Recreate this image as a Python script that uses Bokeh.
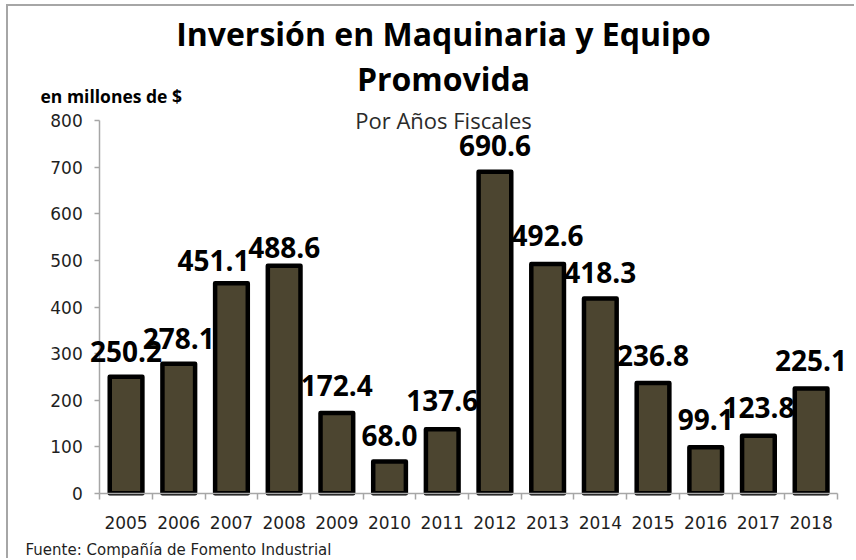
from bokeh.plotting import figure
from bokeh.models import (ColumnDataSource, LinearAxis, FixedTicker, Label, LabelSet, Range1d)
from bokeh.core.properties import value
from bokeh.embed import file_html
from bokeh.resources import INLINE

# ---- data ----
years = ["2005", "2006", "2007", "2008", "2009", "2010", "2011",
         "2012", "2013", "2014", "2015", "2016", "2017", "2018"]
values = [250.2, 278.1, 451.1, 488.6, 172.4, 68.0, 137.6,
          690.6, 492.6, 418.3, 236.8, 99.1, 123.8, 225.1]
value_labels = ["%.1f" % v for v in values]
y_ticks = [0, 100, 200, 300, 400, 500, 600, 700, 800]

title_line1 = "Inversión en Maquinaria y Equipo"
title_line2 = "Promovida"
subtitle = "Por Años Fiscales"
unit_label = "en millones de $"
source_note = "Fuente: Compañía de Fomento Industrial"

# label nudges (pixels) – styling only
label_dx = [0, 0, -18, 0, 0, 0, 0, 0, 0, 0, 0, 0, 0, 0]
label_dy = [15, 15, 12, 8, 17, 16, 18, 16, 18, 16, 17, 17, 18, 17]

n = len(years)
centers = [i + 0.5 for i in range(n)]
bounds_x = [float(i) for i in range(n + 1)]

src = ColumnDataSource(dict(x=centers, year=years, value=values, label=value_labels,
                            dx=label_dx, dy=label_dy))

# ---- geometry (pixels) ----
W, H = 846, 552
FL, FR, FT, FB = 91, 827, 114, 485          # plot-area edges inside canvas
xpp = (FR - FL) / n                          # px per category
ypp = (FB - FT) / 800.0                      # px per unit
x_range = Range1d(-FL / xpp, n + (W - FR) / xpp)
y_range = Range1d(-(H - FB) / ypp, 800 + FT / ypp)

p = figure(x_range=x_range, y_range=y_range,
           width=W, height=H, output_backend="svg", toolbar_location=None,
           x_axis_location=None, y_axis_location=None, min_border=0)
p.outline_line_color = None
p.background_fill_color = "white"
p.border_fill_color = "white"
p.styles = {"position": "absolute", "left": "6px", "top": "4px",
            "box-sizing": "content-box",
            "border-left": "2px solid #a6a6a6", "border-top": "2px solid #a6a6a6"}

axis_col = "#a6a6a6"
tick_col = "#1f1f1f"

yax = LinearAxis(fixed_location=0, bounds=(0, 800),
                 ticker=FixedTicker(ticks=y_ticks), axis_line_color=axis_col,
                 axis_line_width=1.5, major_tick_line_color=axis_col,
                 major_tick_line_width=1.5, major_tick_out=5, major_tick_in=0,
                 minor_tick_line_color=None, major_label_standoff=12,
                 major_label_text_font="DejaVu Sans",
                 major_label_text_font_size="17px",
                 major_label_text_color=tick_col)
p.add_layout(yax, "left")

xax = LinearAxis(fixed_location=0, bounds=(0, n),
                 ticker=FixedTicker(ticks=centers, minor_ticks=bounds_x),
                 major_label_overrides={c: y for c, y in zip(centers, years)},
                 axis_line_color=axis_col, axis_line_width=1.5,
                 major_tick_line_color=None, major_tick_out=0, major_tick_in=0,
                 minor_tick_line_color=axis_col, minor_tick_line_width=1.5,
                 minor_tick_out=6, minor_tick_in=0,
                 major_label_standoff=17,
                 major_label_text_font="DejaVu Sans",
                 major_label_text_font_size="17px",
                 major_label_text_color=tick_col)
p.add_layout(xax, "below")

p.xgrid.grid_line_color = None
p.ygrid.grid_line_color = None

p.vbar(x="x", top="value", width=0.62, source=src,
       fill_color="#4c4530", line_color="black", line_width=4.5,
       line_join="round")

p.add_layout(LabelSet(x="x", y="value", text="label", x_offset="dx", y_offset="dy",
                      source=src, text_align="center", text_baseline="alphabetic",
                      text_font=value("Open Sans"), text_font_style="bold",
                      text_font_size="28px", text_color="black"))

def add_text(txt, ref_x, ref_y, size, bold=False, align="center", color="black", font="Open Sans"):
    # ref_x/ref_y: page pixel position; canvas starts at (8, 6)
    p.add_layout(Label(x=ref_x - 8, y=(6 + H) - ref_y, x_units="screen", y_units="screen",
                       text=txt, text_align=align, text_baseline="alphabetic",
                       text_font=font, text_font_size=size,
                       text_font_style="bold" if bold else "normal",
                       text_color=color))

add_text(title_line1, 443, 31, "32px", bold=True)
add_text(title_line2, 443, 76, "32px", bold=True)
add_text(subtitle, 443, 117, "22px", color="#2a2a2a")
add_text(unit_label, 40, 93, "17.5px", bold=True, align="left")
add_text(source_note, 25, 547, "15px", align="left", color="#1f1f1f", font="DejaVu Sans")

open("out.html", "w").write(file_html(p, INLINE))
